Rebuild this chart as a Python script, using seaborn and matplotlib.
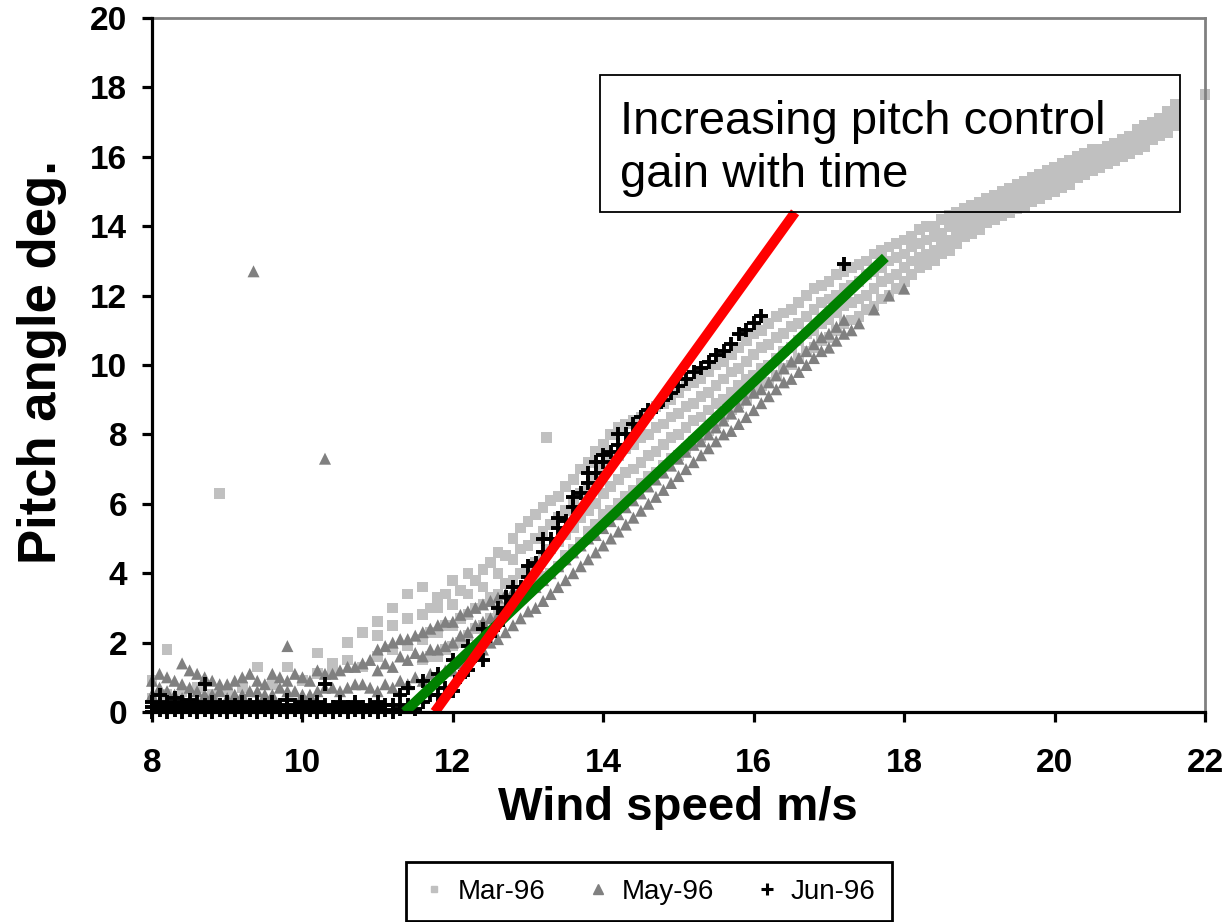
import numpy as np
import pandas as pd
import matplotlib
matplotlib.use("Agg")
import matplotlib.pyplot as plt
import seaborn as sns
from matplotlib.lines import Line2D
from matplotlib.patches import Rectangle

# ---------------- data ----------------
x_ticks = [8, 10, 12, 14, 16, 18, 20, 22]
y_ticks = [0, 2, 4, 6, 8, 10, 12, 14, 16, 18, 20]
series_labels = ["Mar-96", "May-96", "Jun-96"]

# Mar-96 (light grey squares): wind speed and the pitch values seen at that speed
mar_wind = [8.0, 8.2, 8.4, 8.6, 8.8, 8.9, 9.0, 9.2, 9.4, 9.6, 9.8, 10.0, 10.2, 10.4,
            10.6, 10.8, 11.0, 11.2, 11.4,
            11.6, 11.7, 11.8, 11.9, 12.0, 12.1, 12.2, 12.3, 12.4, 12.5, 12.6, 12.7,
            12.8, 12.9, 13.0, 13.1, 13.2, 13.25, 13.3, 13.4, 13.5, 13.6, 13.7, 13.8,
            13.9, 14.0, 14.1, 14.2, 14.3, 14.4, 14.5, 14.6, 14.7, 14.8, 14.9, 15.0,
            15.1, 15.2, 15.3, 15.4, 15.5, 15.6, 15.7, 15.8, 15.9, 16.0, 16.1, 16.2,
            16.3, 16.4, 16.5, 16.6, 16.7, 16.8, 16.9, 17.0, 17.1, 17.2, 17.3, 17.4,
            17.5, 17.6, 17.7, 17.8, 17.9, 18.0, 18.1, 18.2, 18.3, 18.4, 18.5, 18.6,
            18.7, 18.8, 18.9, 19.0, 19.1, 19.2, 19.3, 19.4, 19.5, 19.6, 19.7, 19.8,
            19.9, 20.0, 20.1, 20.2, 20.3, 20.4, 20.5, 20.6, 20.7, 20.8, 20.9, 21.0,
            21.1, 21.2, 21.3, 21.4, 21.5, 21.6, 22.0]
mar_pitch = [[0.4, 0.9], [0.5, 1.8], [0.6], [0.7], [0.5], [6.3], [0.6], [0.7], [1.3],
             [0.8], [1.3], [0.9], [1.1, 1.7], [1.2, 1.4], [1.5, 2.0], [1.3, 2.3],
             [1.6, 2.2, 2.6], [1.8, 2.5, 3.0], [1.9, 2.7, 3.4],
             [1.5, 2.1, 2.8, 3.6], [1.6, 2.3, 3.0], [1.6, 2.3, 3.0, 3.3], [1.8, 2.5, 3.4],
             [1.9, 2.5, 3.1, 3.8], [2.0, 2.7, 3.5], [2.2, 2.8, 3.4, 4.0], [2.4, 3.0, 3.8],
             [2.5, 3.1, 3.6, 4.1], [2.7, 3.3, 4.3], [2.8, 3.4, 4.0, 4.6], [3.0, 3.7, 4.5],
             [3.2, 3.8, 4.4, 5.0], [3.3, 4.0, 4.7, 5.3], [3.5, 4.1, 4.8, 5.5],
             [3.7, 4.3, 5.0, 5.7], [3.9, 4.5, 5.2, 5.9], [7.9], [4.0, 4.7, 5.4, 6.1],
             [4.2, 4.9, 5.6, 6.2], [4.5, 5.1, 5.8, 6.5], [4.7, 5.3, 6.0, 6.7],
             [4.9, 5.6, 6.3, 7.0], [5.2, 5.8, 6.5, 7.2], [5.4, 6.0, 6.8, 7.5],
             [5.7, 6.3, 7.0, 7.7], [5.8, 6.5, 7.2, 8.0], [6.0, 6.7, 7.4, 8.2],
             [6.2, 6.9, 7.6, 8.3], [6.4, 7.0, 7.7, 8.4], [6.6, 7.2, 7.9, 8.5],
             [6.8, 7.4, 8.0, 8.6], [6.9, 7.5, 8.2, 8.8], [7.1, 7.7, 8.3, 8.9],
             [7.3, 7.9, 8.5, 9.0], [7.4, 8.0, 8.6, 9.2], [7.6, 8.2, 8.8, 9.4],
             [7.8, 8.4, 8.9, 9.5], [7.9, 8.5, 9.1, 9.6], [8.1, 8.7, 9.2, 9.8],
             [8.3, 8.9, 9.4, 10.0], [8.5, 9.0, 9.6, 10.1], [8.7, 9.2, 9.8, 10.3],
             [8.9, 9.4, 9.9, 10.5], [9.0, 9.6, 10.1, 10.7], [9.2, 9.7, 10.3, 10.9],
             [9.4, 9.9, 10.5, 11.0], [9.5, 10.0, 10.6, 11.2], [9.7, 10.2, 10.8, 11.4],
             [9.9, 10.4, 10.9, 11.5], [10.0, 10.5, 11.1, 11.6], [10.2, 10.7, 11.2, 11.8],
             [10.4, 10.9, 11.4, 12.0], [10.5, 11.0, 11.6, 12.2], [10.7, 11.2, 11.8, 12.3],
             [10.8, 11.3, 11.9, 12.4], [11.0, 11.5, 12.0, 12.6], [11.2, 11.7, 12.2, 12.7],
             [11.3, 11.8, 12.3, 12.8], [11.4, 11.9, 12.4, 12.9], [11.6, 12.0, 12.6, 13.0],
             [11.7, 12.2, 12.7, 13.2], [11.9, 12.4, 12.8, 13.3], [12.0, 12.5, 13.0, 13.4],
             [12.2, 12.6, 13.1, 13.5], [12.4, 12.8, 13.2, 13.6], [12.6, 13.0, 13.4, 13.7],
             [12.8, 13.1, 13.5, 13.9], [12.9, 13.2, 13.6, 14.0], [13.0, 13.3, 13.7, 14.0],
             [13.2, 13.5, 13.8, 14.2], [13.3, 13.6, 14.0, 14.3], [13.5, 13.8, 14.1, 14.4],
             [13.7, 13.9, 14.2, 14.5], [13.8, 14.1, 14.4, 14.6], [13.9, 14.2, 14.5, 14.7],
             [14.1, 14.3, 14.6, 14.8], [14.2, 14.4, 14.7, 14.9], [14.3, 14.5, 14.8, 15.0],
             [14.4, 14.6, 14.9, 15.1], [14.5, 14.7, 15.0, 15.2], [14.6, 14.8, 15.1, 15.3],
             [14.7, 14.9, 15.2, 15.4], [14.8, 15.0, 15.3, 15.5], [14.9, 15.1, 15.4, 15.6],
             [15.0, 15.2, 15.5, 15.7], [15.1, 15.3, 15.6, 15.8], [15.2, 15.4, 15.7, 15.9],
             [15.4, 15.6, 15.8, 16.0], [15.5, 15.7, 15.9, 16.1], [15.6, 15.8, 16.0, 16.2],
             [15.7, 15.8, 16.0, 16.2], [15.8, 15.9, 16.1, 16.3], [15.9, 16.0, 16.2, 16.4],
             [16.0, 16.2, 16.3, 16.5], [16.1, 16.3, 16.5, 16.6], [16.2, 16.4, 16.6, 16.8],
             [16.3, 16.5, 16.7, 16.9], [16.5, 16.7, 16.8, 17.0], [16.6, 16.8, 17.0, 17.1],
             [16.7, 16.9, 17.1, 17.3], [16.9, 17.1, 17.3, 17.5], [17.8]]

# May-96 (mid grey triangles)
may_wind = [8.0, 8.1, 8.2, 8.3, 8.4, 8.5, 8.6, 8.7, 8.8, 8.9, 9.0, 9.1, 9.2, 9.3, 9.35,
            9.4, 9.5, 9.6, 9.7, 9.8, 9.9, 10.0, 10.1, 10.2, 10.3, 10.4, 10.5, 10.6,
            10.7, 10.8, 10.9, 11.0, 11.1, 11.2, 11.3, 11.4, 11.5, 11.6, 11.7, 11.8,
            11.9, 12.0, 12.1, 12.2, 12.3, 12.4, 12.5, 12.6, 12.7, 12.8, 12.9, 13.0,
            13.1, 13.2, 13.3, 13.4, 13.5, 13.6, 13.7, 13.8, 13.9, 14.0, 14.1, 14.2,
            14.3, 14.4, 14.5, 14.6, 14.7, 14.8, 14.9, 15.0, 15.1, 15.2, 15.3, 15.4,
            15.5, 15.6, 15.7, 15.8, 15.9, 16.0, 16.1, 16.2, 16.3, 16.4, 16.5, 16.6,
            16.7, 16.8, 16.9, 17.0, 17.1, 17.2, 17.3, 17.4, 17.6, 17.8, 18.0]
may_pitch = [[0.5, 0.9], [0.7, 1.1], [0.6, 1.0], [0.5, 0.9], [0.4, 0.8, 1.4],
             [0.7, 1.2], [0.6, 1.1], [0.5, 1.0], [0.5, 0.9], [0.6, 0.8], [0.4, 0.8],
             [0.5, 0.9], [0.5, 1.0], [0.6, 1.1], [12.7], [0.6, 0.9], [0.5, 0.8],
             [0.5, 1.1], [0.7, 1.0], [0.6, 0.9, 1.9], [0.6, 1.1], [0.5, 1.0], [0.5, 0.9],
             [0.6, 1.2], [0.7, 1.1, 7.3], [0.7, 1.1], [0.6, 1.2], [0.7, 1.3], [0.8, 1.3],
             [0.8, 1.4], [0.7, 1.5], [0.6, 1.2, 1.8], [0.8, 1.4, 1.9], [0.7, 1.3, 2.0],
             [0.9, 1.6, 2.1], [0.8, 1.5, 2.1], [1.0, 1.7, 2.2], [0.9, 1.6, 2.3],
             [1.1, 1.8, 2.4], [1.0, 1.8, 2.5], [1.2, 1.9, 2.6], [1.2, 2.0, 2.6],
             [1.4, 2.2, 2.8], [1.5, 2.3, 2.9], [1.7, 2.5, 3.0], [1.8, 2.6, 3.1],
             [2.0, 2.7, 3.2], [2.1, 2.8, 3.3], [2.3, 3.0, 3.4], [2.5, 3.1, 3.5],
             [2.7, 3.3, 3.6], [2.9, 3.5], [3.0, 3.6], [3.2, 3.8], [3.4, 4.0], [3.6, 4.2],
             [3.8, 4.4], [4.0, 4.6], [4.2, 4.8], [4.4, 5.0], [4.6, 5.1], [4.8, 5.3],
             [5.0, 5.5], [5.2, 5.7], [5.4, 5.9], [5.6, 6.1], [5.8, 6.3], [6.0, 6.5],
             [6.2, 6.7], [6.4, 6.9], [6.6, 7.1], [6.8, 7.3], [7.0, 7.5], [7.2, 7.7],
             [7.4, 7.8], [7.6, 8.0], [7.8, 8.2], [8.0, 8.4], [8.1, 8.6], [8.3, 8.8],
             [8.5, 9.0], [8.7, 9.2], [8.9, 9.3], [9.1, 9.5], [9.3, 9.7], [9.5, 9.9],
             [9.6, 10.1], [9.8, 10.2], [10.0, 10.4], [10.2, 10.6], [10.4, 10.8],
             [10.5, 10.9], [10.7, 11.1], [10.9, 11.3], [11.0], [11.2], [11.6], [12.0],
             [12.2]]

# Jun-96 (black plus signs)
jun_wind = [8.0, 8.1, 8.2, 8.3, 8.4, 8.5, 8.6, 8.7, 8.8, 8.9, 9.0, 9.1, 9.2, 9.3, 9.4,
            9.5, 9.6, 9.7, 9.8, 9.9, 10.0, 10.1, 10.2, 10.3, 10.4, 10.5, 10.6, 10.7,
            10.8, 10.9, 11.0, 11.1, 11.2, 11.3, 11.4, 11.5, 11.6, 11.7, 11.8, 11.9,
            12.0, 12.1, 12.2, 12.3, 12.4, 12.5, 12.6, 12.7, 12.8, 12.9, 13.0, 13.1,
            13.2, 13.3, 13.4, 13.5, 13.6, 13.7, 13.8, 13.9, 14.0, 14.1, 14.2, 14.3,
            14.4, 14.5, 14.6, 14.7, 14.8, 14.9, 15.0, 15.1, 15.2, 15.3, 15.4, 15.5,
            15.6, 15.7, 15.8, 15.9, 16.0, 16.1, 17.2]
jun_pitch = [[0.0, 0.15, 0.3], [0.05, 0.2, 0.5], [0.0, 0.15, 0.3], [0.05, 0.2, 0.4],
             [0.0, 0.15, 0.3], [0.05, 0.2, 0.35], [0.0, 0.15, 0.3], [0.05, 0.2, 0.8],
             [0.0, 0.15, 0.3], [0.05, 0.2], [0.0, 0.15, 0.3], [0.05, 0.2],
             [0.0, 0.15, 0.3], [0.05, 0.2], [0.0, 0.15, 0.3], [0.05, 0.2],
             [0.0, 0.15, 0.3], [0.05, 0.2], [0.0, 0.15, 0.35], [0.05, 0.2],
             [0.0, 0.15, 0.3], [0.05, 0.2], [0.0, 0.15, 0.3], [0.05, 0.2, 0.8],
             [0.0, 0.15], [0.05, 0.2, 0.3], [0.0, 0.15], [0.05, 0.2, 0.3], [0.0, 0.15],
             [0.05, 0.2], [0.0, 0.15, 0.3], [0.05, 0.2], [0.0, 0.2], [0.1, 0.5],
             [0.2, 0.7], [0.1], [0.3, 0.9], [0.5], [0.5, 1.1], [0.7], [0.6, 1.5], [1.0],
             [1.2, 1.9], [1.6], [1.5, 2.4], [2.2], [2.5, 3.0], [2.9, 3.3], [3.2, 3.6],
             [3.6], [3.9, 4.2], [4.3], [4.6, 5.0], [5.0], [5.3, 5.6], [5.5], [5.9, 6.2],
             [6.3], [6.6, 6.9], [6.9, 7.2], [7.2, 7.4], [7.5], [7.7, 8.0], [8.0], [8.3],
             [8.5], [8.7], [8.8], [9.0], [9.2], [9.4], [9.6], [9.8], [9.9], [10.1],
             [10.3], [10.4], [10.6], [10.9], [11.0], [11.2], [11.4], [12.9]]

# hand-drawn trend lines (end points)
red_wind = [11.76, 16.55]
red_pitch = [0.0, 14.4]
green_wind = [11.36, 17.75]
green_pitch = [0.0, 13.1]

annotation = "Increasing pitch control\ngain with time"


def to_frame(wind, pitch):
    counts = [len(p) for p in pitch]
    return pd.DataFrame({"wind": np.repeat(wind, counts),
                         "pitch": np.concatenate([np.asarray(p, float) for p in pitch])})


mar_df = to_frame(mar_wind, mar_pitch)
may_df = to_frame(may_wind, may_pitch)
jun_df = to_frame(jun_wind, jun_pitch)

# ---------------- styling ----------------
sns.set_theme(style="white")
plt.rcParams['font.family'] = ['Liberation Sans', 'DejaVu Sans']

fig = plt.figure(figsize=(12.25, 9.22), dpi=100)
ax = fig.add_axes([152 / 1225, 1 - 712 / 922, (1205 - 152) / 1225, (712 - 18) / 922])

MAR_C, MAY_C, JUN_C = "#C0C0C0", "#808080", "#000000"

sns.scatterplot(data=mar_df, x="wind", y="pitch", marker="s", s=60, color=MAR_C,
                edgecolor="none", linewidth=0, ax=ax, legend=False, zorder=2,
                clip_on=False)
sns.scatterplot(data=may_df, x="wind", y="pitch", marker="^", s=75, color=MAY_C,
                edgecolor="none", linewidth=0, ax=ax, legend=False, zorder=3,
                clip_on=False)
sns.scatterplot(data=jun_df, x="wind", y="pitch", marker="+", s=110, color=JUN_C,
                linewidth=2.8, ax=ax, legend=False, zorder=4, clip_on=False)

sns.lineplot(x=green_wind, y=green_pitch, color="#008000", linewidth=7.2, ax=ax,
             solid_capstyle="butt", zorder=5)
sns.lineplot(x=red_wind, y=red_pitch, color="#FF0000", linewidth=7.2, ax=ax,
             solid_capstyle="butt", zorder=6)

ax.set_xlim(8, 22)
ax.set_ylim(0, 20)
ax.set_xticks(x_ticks)
ax.set_yticks(y_ticks)
ax.set_xticklabels([str(v) for v in x_ticks])
ax.set_yticklabels([str(v) for v in y_ticks])

for side in ["left", "bottom"]:
    ax.spines[side].set_color("black")
    ax.spines[side].set_linewidth(2.3)
    ax.spines[side].set_zorder(7)
for side in ["top", "right"]:
    ax.spines[side].set_color("#808080")
    ax.spines[side].set_linewidth(2.0)

ax.tick_params(axis="both", which="major", bottom=True, left=True, direction="out",
               length=7, width=2.3, color="black", labelsize=24, labelcolor="black")
ax.tick_params(axis="x", pad=19)
ax.tick_params(axis="y", pad=11)
for lab in ax.get_xticklabels() + ax.get_yticklabels():
    lab.set_fontweight("bold")

ax.set_xlabel("Wind speed m/s", fontsize=34, fontweight="bold", color="black")
ax.set_ylabel("Pitch angle deg.", fontsize=38, fontweight="bold", color="black")
ax.xaxis.set_label_coords(0.4995, -0.138)
ax.xaxis.label.set_va("center")
ax.yaxis.set_label_coords(-0.1045, 0.504)
ax.yaxis.label.set_va("center")

# annotation box
ax.add_patch(Rectangle((0.4255, 0.7205), 0.9763 - 0.4255, 0.9179 - 0.7205,
                       transform=ax.transAxes, fill=False, edgecolor="black",
                       linewidth=1.3, zorder=8))
ax.text((620 - 152) / 1053, 0.812, annotation, transform=ax.transAxes,
        fontsize=34, family=["Liberation Sans", "DejaVu Sans"], color="black",
        ha="left", va="center", linespacing=1.25, zorder=9)

handles = [
    Line2D([], [], marker="s", color=MAR_C, linestyle="None", markersize=5),
    Line2D([], [], marker="^", color=MAY_C, linestyle="None", markersize=7),
    Line2D([], [], marker="+", color=JUN_C, linestyle="None", markersize=9,
           markeredgewidth=2.2),
]
leg = fig.legend(handles, series_labels, loc="upper center",
                 bbox_to_anchor=(649 / 1225, 1 - 862 / 922), ncol=3, frameon=True,
                 fancybox=False, edgecolor="black", framealpha=1, fontsize=20,
                 labelcolor="black", handlelength=0.8, handletextpad=0.45,
                 columnspacing=1.5, borderpad=0.6, borderaxespad=0)
leg.get_frame().set_linewidth(2.0)

fig.savefig("out.png", dpi=100, facecolor="white")
